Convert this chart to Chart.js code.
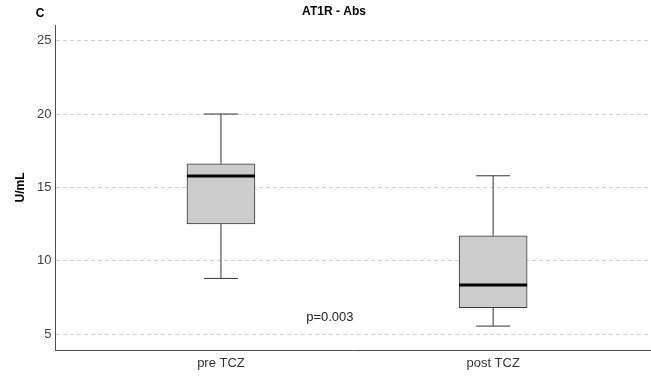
<!DOCTYPE html>
<html>
<head>
<meta charset="utf-8">
<script src="https://cdn.jsdelivr.net/npm/chart.js@4/dist/chart.umd.min.js"></script>
<style>
  html, body { margin: 0; padding: 0; background: #ffffff; }
  #wrap { width: 651px; height: 379px; position: relative; }
</style>
</head>
<body>
<div id="wrap"><canvas id="c"></canvas></div>
<script>
// Groups and five-number summaries (U/mL)
const groups = ['pre TCZ', 'post TCZ'];
const groupPos = [1, 2];
const whiskerLow = [8.79, 5.54];
const q1 = [12.50, 6.79];
const median = [15.77, 8.34];
const q3 = [16.61, 11.70];
const whiskerHigh = [20.0, 15.79];
const yTicks = [5, 10, 15, 20, 25];

const panelLabel = 'C';
const chartTitle = 'AT1R - Abs';
const yTitle = 'U/mL';
const pLabel = 'p=0.003';
const pLabelPos = { x: 1.4, y: 6.16 };

const FONT = '"Liberation Sans", Arial, sans-serif';

// Whiskers, caps and median lines drawn on top of the floating bars
const boxExtras = {
  id: 'boxExtras',
  afterDatasetsDraw(chart) {
    const { ctx, scales: { x, y } } = chart;
    const meta = chart.getDatasetMeta(0);
    ctx.save();
    groupPos.forEach((g, i) => {
      const bar = meta.data[i];
      const half = bar.width / 2;
      const cx = x.getPixelForValue(g);
      const cap = half / 2;
      ctx.strokeStyle = '#333333';
      ctx.lineWidth = 1;
      ctx.beginPath();
      // upper whisker
      ctx.moveTo(cx, y.getPixelForValue(q3[i]));
      ctx.lineTo(cx, y.getPixelForValue(whiskerHigh[i]));
      ctx.moveTo(cx - cap, y.getPixelForValue(whiskerHigh[i]));
      ctx.lineTo(cx + cap, y.getPixelForValue(whiskerHigh[i]));
      // lower whisker
      ctx.moveTo(cx, y.getPixelForValue(q1[i]));
      ctx.lineTo(cx, y.getPixelForValue(whiskerLow[i]));
      ctx.moveTo(cx - cap, y.getPixelForValue(whiskerLow[i]));
      ctx.lineTo(cx + cap, y.getPixelForValue(whiskerLow[i]));
      ctx.stroke();
      // median
      ctx.strokeStyle = '#000000';
      ctx.lineWidth = 3;
      ctx.beginPath();
      ctx.moveTo(cx - half, y.getPixelForValue(median[i]));
      ctx.lineTo(cx + half, y.getPixelForValue(median[i]));
      ctx.stroke();
    });
    // p-value annotation
    ctx.fillStyle = '#222222';
    ctx.font = '13px ' + FONT;
    ctx.textAlign = 'center';
    ctx.textBaseline = 'middle';
    ctx.fillText(pLabel, x.getPixelForValue(pLabelPos.x), y.getPixelForValue(pLabelPos.y));
    // panel letter and title
    ctx.fillStyle = '#000000';
    ctx.font = 'bold 12px ' + FONT;
    ctx.fillText(panelLabel, 40, 13.5);
    ctx.fillText(chartTitle, 334, 12);
    ctx.restore();
  }
};

new Chart(document.getElementById('c'), {
  type: 'bar',
  data: {
    datasets: [{
      data: groupPos.map((g, i) => ({ x: g, y: [q1[i], q3[i]] })),
      backgroundColor: '#cccccc',
      borderColor: '#3a3a3a',
      borderWidth: 1,
      borderSkipped: false,
      barThickness: 68
    }]
  },
  options: {
    responsive: true,
    maintainAspectRatio: false,
    animation: false,
    layout: { padding: { top: 25, right: 0, bottom: 0, left: 0 } },
    plugins: {
      legend: { display: false },
      tooltip: { enabled: false },
      title: { display: false }
    },
    scales: {
      x: {
        type: 'linear',
        offset: false,
        min: 0.392,
        max: 2.58,
        afterFit(s) { s.height = 29; },
        afterBuildTicks(s) { s.ticks = groupPos.map(v => ({ value: v })); },
        grid: { display: false, drawTicks: false, offset: false },
        border: { display: true, color: '#4d4d4d', width: 1 },
        ticks: {
          padding: 6,
          color: '#333333',
          font: { family: FONT, size: 13 },
          maxRotation: 0,
          autoSkip: false,
          callback: (v) => groups[groupPos.indexOf(v)] ?? ''
        }
      },
      y: {
        type: 'linear',
        min: 3.91,
        max: 26.07,
        afterFit(s) { s.width = 55.5; },
        afterBuildTicks(s) { s.ticks = yTicks.map(v => ({ value: v })); },
        grid: {
          display: true,
          drawTicks: false,
          color: '#d2d2d2',
          lineWidth: 1
        },
        border: { display: true, color: '#4d4d4d', width: 1, dash: [4, 3] },
        ticks: {
          padding: 4,
          color: '#404040',
          font: { family: FONT, size: 13 }
        },
        title: {
          display: true,
          text: yTitle,
          color: '#000000',
          font: { family: FONT, size: 12, weight: 'bold' },
          padding: { top: 13, bottom: 0 }
        }
      }
    }
  },
  plugins: [boxExtras]
});
</script>
</body>
</html>
